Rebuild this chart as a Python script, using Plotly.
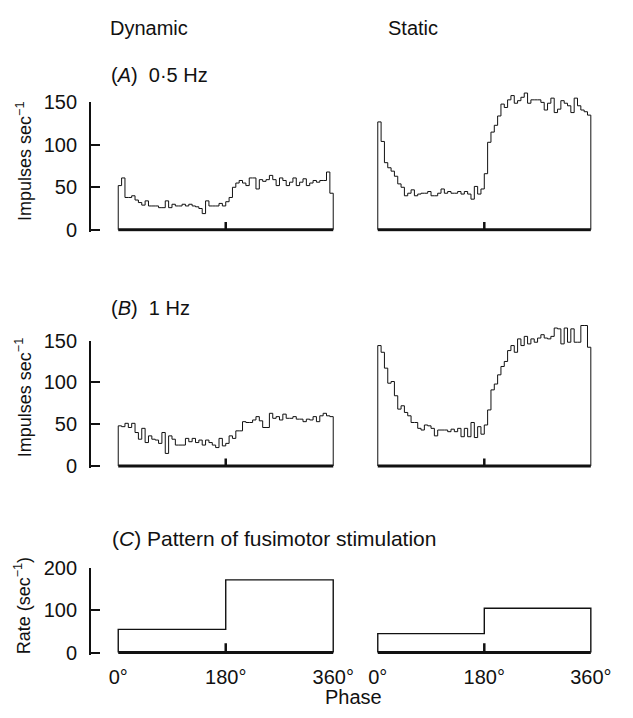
import numpy as np
import plotly.graph_objects as go

W, H = 633, 718

# ---- data ----
phase_edges = list(np.linspace(0, 360, 65))  # 64 bins over one cycle

dyn_05hz = [52, 61, 38, 38, 40, 35, 32, 29, 34, 28, 28, 28, 26, 26, 34, 26,
            30, 28, 28, 30, 28, 30, 28, 27, 25, 19, 34, 28, 28, 28, 31, 28,
            33, 38, 50, 55, 58, 55, 52, 61, 61, 48, 59, 57, 59, 64, 59, 52,
            61, 58, 52, 56, 61, 52, 56, 60, 52, 55, 58, 56, 58, 58, 68, 43]
sta_05hz = [127, 104, 79, 73, 69, 63, 54, 50, 40, 43, 47, 40, 42, 43, 43, 45,
            40, 40, 43, 48, 43, 45, 43, 43, 45, 42, 45, 42, 36, 51, 42, 48,
            66, 103, 115, 123, 134, 148, 144, 153, 158, 149, 152, 156, 161, 149, 153, 153,
            153, 150, 141, 149, 155, 138, 142, 152, 149, 146, 138, 155, 146, 141, 139, 135]
dyn_1hz = [48, 47, 51, 46, 51, 40, 32, 45, 28, 36, 32, 31, 27, 40, 15, 36,
           32, 25, 25, 25, 33, 29, 33, 28, 31, 25, 31, 28, 25, 22, 33, 24,
           27, 36, 33, 42, 42, 53, 52, 52, 55, 59, 54, 46, 46, 63, 57, 59,
           55, 62, 57, 57, 59, 56, 56, 53, 56, 55, 59, 53, 60, 63, 60, 59]
sta_1hz = [144, 136, 117, 99, 101, 84, 68, 72, 64, 60, 52, 52, 45, 43, 49, 48,
           45, 36, 43, 43, 43, 41, 44, 41, 45, 35, 45, 35, 52, 34, 47, 38,
           49, 67, 91, 98, 109, 119, 125, 138, 144, 136, 152, 144, 155, 146, 152, 148,
           153, 157, 153, 152, 155, 165, 164, 146, 165, 148, 164, 148, 148, 168, 168, 142]

stim_phase = [0, 180, 360]
stim_dyn = [55, 172]
stim_sta = [45, 105]

imp_ticks = [0, 50, 100, 150]
rate_ticks = [0, 100, 200]
phase_ticks = [0, 180, 360]
phase_labels = ["0°", "180°", "360°"]

FONT = "Liberation Sans, Arial, sans-serif"
BLACK = "#111111"


def fx(px):
    return px / W


def fy(py):
    return 1 - py / H


# column geometry (pixels): domain, pixel of 0 deg, pixel of 360 deg
cols = {
    "dyn": dict(dom=(91, 345), p0=119, p360=341),
    "sta": dict(dom=(380, 614), p0=387, p360=607),
}
# row geometry: pixel of zero, pixels per unit
rows = {
    "A": dict(zero=225, k=131 / 150, lo=-2.5, hi_dyn=150, hi_sta=178),
    "B": dict(zero=468, k=129 / 150, lo=-2.5, hi_dyn=150, hi_sta=180),
    "C": dict(zero=660, k=87 / 200, lo=-5, hi_dyn=200, hi_sta=200),
}

panels = [
    ("A", "dyn", phase_edges, dyn_05hz, 1.0, 9),
    ("A", "sta", phase_edges, sta_05hz, 1.0, 9),
    ("B", "dyn", phase_edges, dyn_1hz, 1.0, 9),
    ("B", "sta", phase_edges, sta_1hz, 1.0, 9),
    ("C", "dyn", stim_phase, stim_dyn, 1.4, 22),
    ("C", "sta", stim_phase, stim_sta, 1.4, 22),
]

fig = go.Figure()
layout = {}

for i, (r, c, edges, vals, lw, mark_h) in enumerate(panels, start=1):
    xa = "x" if i == 1 else f"x{i}"
    ya = "y" if i == 1 else f"y{i}"
    xkey = "xaxis" if i == 1 else f"xaxis{i}"
    ykey = "yaxis" if i == 1 else f"yaxis{i}"
    cg, rg = cols[c], rows[r]
    kx = (cg["p360"] - cg["p0"]) / 360.0
    xr = [(cg["dom"][0] - cg["p0"]) / kx, (cg["dom"][1] - cg["p0"]) / kx]
    hi = rg["hi_dyn"] if c == "dyn" else rg["hi_sta"]
    lo = rg["lo"]
    bot = rg["zero"] - lo * rg["k"]
    top = rg["zero"] - hi * rg["k"]

    # step outline, dropping to the baseline at both ends
    xs = [edges[0]] + list(edges[:-1]) + [edges[-1]]
    ys = [0] + list(vals) + [0]
    fig.add_trace(go.Scatter(x=xs, y=ys, mode="lines", line_shape="hv",
                             line=dict(color=BLACK, width=lw),
                             xaxis=xa, yaxis=ya, showlegend=False, hoverinfo="skip"))
    # thick baseline
    fig.add_trace(go.Scatter(x=[edges[0], edges[-1]], y=[0, 0], mode="lines",
                             line=dict(color=BLACK, width=3),
                             xaxis=xa, yaxis=ya, showlegend=False, hoverinfo="skip"))
    # 180 deg marker
    fig.add_trace(go.Scatter(x=[180, 180], y=[0, mark_h], mode="lines",
                             line=dict(color=BLACK, width=2.5),
                             xaxis=xa, yaxis=ya, showlegend=False, hoverinfo="skip"))

    xaxis = dict(domain=[fx(cg["dom"][0]), fx(cg["dom"][1])], range=xr,
                 anchor=ya, showgrid=False, zeroline=False, showline=False,
                 fixedrange=True)
    if r == "C":
        xaxis.update(tickmode="array", tickvals=phase_ticks, ticktext=phase_labels,
                     ticks="", tickfont=dict(family=FONT, size=20, color=BLACK),
                     ticklabelstandoff=8)
    else:
        xaxis.update(visible=False)
    layout[xkey] = xaxis

    yaxis = dict(domain=[fy(bot), fy(top)], range=[lo, hi], anchor=xa,
                 showgrid=False, zeroline=False, fixedrange=True)
    if c == "dyn":
        yaxis.update(showline=True, linewidth=2, linecolor=BLACK,
                     ticks="inside", ticklen=9, tickwidth=2, tickcolor=BLACK,
                     tickmode="array", tickvals=(rate_ticks if r == "C" else imp_ticks),
                     tickfont=dict(family=FONT, size=20, color=BLACK),
                     ticklabelstandoff=8)
    else:
        yaxis.update(visible=False)
    layout[ykey] = yaxis

ann = []


def text(s, x, y, size=20, xanchor="left", angle=0):
    ann.append(dict(text=s, x=fx(x), y=fy(y), xref="paper", yref="paper",
                    xanchor=xanchor, yanchor="middle", showarrow=False,
                    textangle=angle, font=dict(family=FONT, size=size, color=BLACK)))


text("Dynamic", 108, 18)
text("Static", 395, 18)
text("(<i>A</i>)  0·5 Hz", 109, 66)
text("(<i>B</i>)  1 Hz", 109, 305)
text("(<i>C</i>) Pattern of fusimotor stimulation", 111, 543, size=21)
text("Impulses sec<sup>−1</sup>", 22, 155, size=18, xanchor="center", angle=-90)
text("Impulses sec<sup>−1</sup>", 22, 398, size=18, xanchor="center", angle=-90)
text("Rate (sec<sup>−1</sup>)", 21, 612, size=18, xanchor="center", angle=-90)
text("Phase", 362, 706)
ann[-1]["xanchor"] = "center"

fig.update_layout(width=W, height=H, margin=dict(l=0, r=0, t=0, b=0),
                  paper_bgcolor="white", plot_bgcolor="rgba(0,0,0,0)",
                  showlegend=False, annotations=ann, **layout)

fig.write_html("out.html", config={"displayModeBar": False})
